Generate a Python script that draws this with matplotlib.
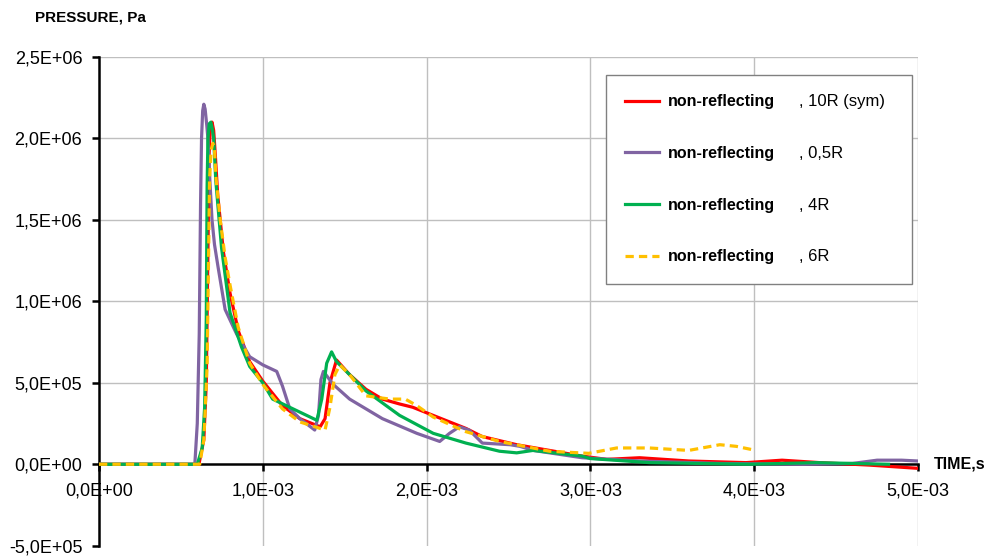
import matplotlib
matplotlib.use("Agg")
import matplotlib.pyplot as plt
import matplotlib.ticker as mticker

plt.rcParams["font.family"] = ["Liberation Sans", "DejaVu Sans"]

# ── data (time in ms, pressure in MPa) ──────────────────────────────
t_red = [0, 0.61, 0.64, 0.655, 0.665, 0.672, 0.68, 0.69, 0.70, 0.71, 0.725, 0.76, 0.80, 0.85,
         0.92, 1.00, 1.12, 1.226, 1.35, 1.38, 1.41, 1.45, 1.53, 1.63, 1.73, 1.835, 1.915,
         2.04, 2.14, 2.24, 2.34, 2.55, 2.75, 2.95, 3.1, 3.3, 3.6, 3.95, 4.17, 4.4, 4.7, 5.0]
p_red = [0, 0, 0.15, 0.5, 1.3, 1.9, 2.07, 2.1, 2.05, 1.9, 1.65, 1.3, 1.05, 0.82,
         0.63, 0.51, 0.36, 0.28, 0.23, 0.28, 0.50, 0.64, 0.55, 0.46, 0.40, 0.37, 0.35,
         0.30, 0.26, 0.22, 0.17, 0.12, 0.085, 0.05, 0.03, 0.04, 0.02, 0.01, 0.025, 0.01, -0.005, -0.025]

t_pur = [0, 0.585, 0.60, 0.612, 0.62, 0.626, 0.633, 0.64, 0.648, 0.658, 0.665, 0.677, 0.69,
         0.705, 0.727, 0.77, 0.84, 0.92, 1.00, 1.085, 1.12, 1.165, 1.226, 1.317, 1.34, 1.355,
         1.37, 1.43, 1.53, 1.73, 1.94, 2.08, 2.14, 2.20, 2.26, 2.34, 2.51, 2.57, 2.65, 2.95,
         3.3, 3.8, 4.3, 4.6, 4.75, 4.9, 5.0]
p_pur = [0, 0, 0.25, 0.8, 1.6, 2.0, 2.17, 2.21, 2.18, 2.08, 2.0, 1.74, 1.5,
         1.35, 1.21, 0.95, 0.80, 0.66, 0.61, 0.57, 0.48, 0.34, 0.28, 0.21, 0.30, 0.52,
         0.57, 0.49, 0.40, 0.28, 0.19, 0.14, 0.19, 0.23, 0.21, 0.13, 0.12, 0.11, 0.085, 0.04,
         0.02, 0.005, 0.0, 0.005, 0.025, 0.025, 0.02]

t_grn = [0, 0.60, 0.63, 0.645, 0.655, 0.66, 0.665, 0.673, 0.683, 0.693, 0.70, 0.713, 0.748,
         0.80, 0.87, 0.92, 1.00, 1.06, 1.33, 1.36, 1.39, 1.42, 1.45, 1.53, 1.63, 1.835, 2.04,
         2.24, 2.445, 2.55, 2.65, 2.95, 3.0, 3.36, 3.97, 4.38, 4.82]
p_grn = [0, 0, 0.1, 0.35, 0.9, 1.7, 2.0, 2.09, 2.10, 2.05, 2.0, 1.74, 1.33,
         0.93, 0.72, 0.60, 0.50, 0.40, 0.27, 0.40, 0.62, 0.69, 0.63, 0.55, 0.45, 0.30, 0.19,
         0.13, 0.08, 0.07, 0.085, 0.05, 0.035, 0.01, 0.0, 0.01, 0.0]

t_yel = [0, 0.615, 0.64, 0.66, 0.668, 0.675, 0.685, 0.695, 0.705, 0.715, 0.74, 0.77, 0.80,
         0.85, 0.92, 1.00, 1.12, 1.226, 1.38, 1.41, 1.44, 1.47, 1.53, 1.63, 1.775, 1.87, 1.94,
         2.04, 2.24, 2.445, 2.75, 2.99, 3.16, 3.36, 3.6, 3.79, 3.89, 4.01]
p_yel = [0, 0, 0.15, 0.6, 1.2, 1.75, 1.93, 1.97, 1.93, 1.75, 1.5, 1.27, 1.1,
         0.84, 0.62, 0.49, 0.34, 0.26, 0.21, 0.35, 0.55, 0.61, 0.55, 0.42, 0.40, 0.40, 0.36,
         0.29, 0.20, 0.14, 0.08, 0.067, 0.10, 0.10, 0.085, 0.12, 0.11, 0.085]

labels = ["non-reflecting", "non-reflecting", "non-reflecting", "non-reflecting"]
suffixes = [", 10R (sym)", ", 0,5R", ", 4R", ", 6R"]

x_ticks = [0, 1e-3, 2e-3, 3e-3, 4e-3, 5e-3]
y_ticks = [-5e5, 0, 5e5, 1e6, 1.5e6, 2e6, 2.5e6]

def s(t):
    return [v * 1e-3 for v in t]

def pa(p):
    return [v * 1e6 for v in p]

fig = plt.figure(figsize=(9.85, 5.56), dpi=100)
ax = fig.add_axes([0.1005, 0.0185, 0.8315, 0.879])

lw = 2.3
l1, = ax.plot(s(t_red), pa(p_red), color="#FF0000", lw=lw, zorder=3)
l2, = ax.plot(s(t_pur), pa(p_pur), color="#8064A2", lw=lw, zorder=3)
l3, = ax.plot(s(t_grn), pa(p_grn), color="#00B050", lw=lw, zorder=3)
l4, = ax.plot(s(t_yel), pa(p_yel), color="#FFC000", lw=lw, ls=(0, (2.6, 1.6)), zorder=4)

ax.set_xlim(0, 5e-3)
ax.set_ylim(-5e5, 2.5e6)
ax.set_xticks(x_ticks)
ax.set_yticks(y_ticks)

fmt = mticker.FuncFormatter(lambda v, _: f"{v:.1E}".replace(".", ","))
ax.xaxis.set_major_formatter(fmt)
ax.yaxis.set_major_formatter(fmt)

# grid: verticals across the whole height, horizontals only above zero
for xv in x_ticks[1:]:
    ax.axvline(xv, color="#BFBFBF", lw=1.0, zorder=1)
for yv in y_ticks:
    if yv > 0:
        ax.axhline(yv, color="#BFBFBF", lw=1.0, zorder=1)

for side in ["top", "right"]:
    ax.spines[side].set_visible(False)
ax.spines["bottom"].set_position(("data", 0))
ax.spines["bottom"].set_linewidth(1.8)
ax.spines["left"].set_linewidth(1.8)
ax.spines["bottom"].set_zorder(2)
ax.tick_params(axis="both", direction="out", width=1.8, labelsize=13, colors="black")
ax.tick_params(axis="y", length=5, pad=7)
ax.tick_params(axis="x", length=5, pad=8)

fig.text(0.036, 0.968, "PRESSURE, Pa", fontsize=11, fontweight="bold", va="center", ha="left")
ax.annotate("TIME,s", xy=(1.019, 0), xycoords=("axes fraction", "data"),
            fontsize=11.5, fontweight="bold", va="center", ha="left", annotation_clip=False)

leg = ax.legend([l1, l2, l3, l4], labels, loc="upper left",
                bbox_to_anchor=(0.619, 0.863, 0.374, 0.1), mode="expand", borderaxespad=0,
                prop={"weight": "bold", "size": 11.5}, labelspacing=2.3,
                handlelength=2.1, handletextpad=0.55, borderpad=1.2,
                fancybox=False, edgecolor="#808080", framealpha=1)
leg.get_frame().set_linewidth(1.0)

# the plain-text part of each legend entry, aligned with the bold label
fig.canvas.draw()
H = fig.bbox.height
for txt, lt in zip(suffixes, leg.get_texts()):
    bb = lt.get_window_extent()
    fig.text(0.811, bb.y0 / H, txt, fontsize=12, va="bottom", ha="left", zorder=10)

fig.savefig("out.png", dpi=100)
